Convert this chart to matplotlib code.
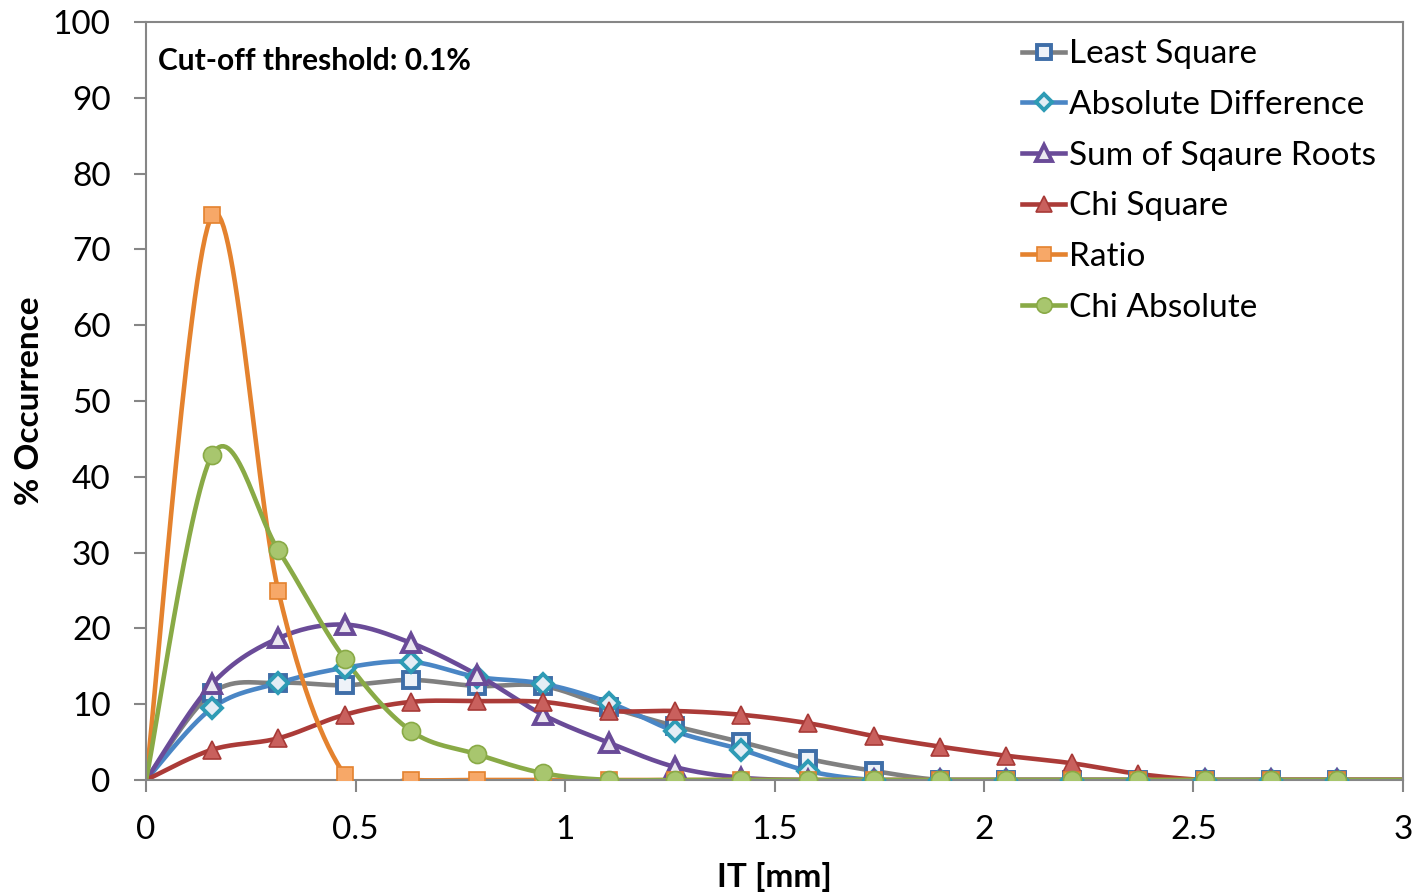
import numpy as np
import matplotlib
matplotlib.use("Agg")
import matplotlib.pyplot as plt

plt.rcParams['font.family'] = ['Lato', 'DejaVu Sans']

# IT bins: 19 equal steps over 0..3 mm (last bin at 3.0 carries no marker)
it_mm = np.arange(20) * 3.0 / 19

least_square = [0, 11.5, 12.8, 12.5, 13.2, 12.4, 12.4, 9.6, 7.1, 5.0, 2.8, 1.2,
                0, 0, 0, 0, 0, 0, 0, 0]
absolute_diff = [0, 9.5, 12.8, 14.8, 15.6, 13.6, 12.7, 10.2, 6.4, 4.0, 1.2, 0,
                 0, 0, 0, 0, 0, 0, 0, 0]
sum_sqrt = [0, 12.7, 18.7, 20.5, 18.1, 13.9, 8.6, 4.9, 1.7, 0.3, 0, 0,
            0, 0, 0, 0, 0, 0, 0, 0]
chi_square = [0, 4.0, 5.5, 8.6, 10.3, 10.4, 10.3, 9.1, 9.1, 8.6, 7.5, 5.8,
              4.4, 3.2, 2.2, 0.8, 0, 0, 0, 0]
ratio = [0, 74.5, 24.9, 0.7, 0, 0, 0, 0, 0, 0, 0, 0,
         0, 0, 0, 0, 0, 0, 0, 0]
chi_absolute = [0, 42.9, 30.3, 16.0, 6.5, 3.4, 0.9, 0, 0, 0, 0, 0,
                0, 0, 0, 0, 0, 0, 0, 0]

labels = ["Least Square", "Absolute Difference", "Sum of Sqaure Roots",
          "Chi Square", "Ratio", "Chi Absolute"]


def smooth(x, y, n=30):
    # Excel-like smoothed line: cardinal spline drawn as cubic Bezier segments
    x = np.asarray(x, float)
    y = np.asarray(y, float)
    px = np.concatenate([[x[0]], x, [x[-1]]])
    py = np.concatenate([[y[0]], y, [y[-1]]])
    t = np.linspace(0, 1, n)[:, None]
    xs, ys = [], []
    for i in range(1, len(px) - 2):
        p0 = np.array([px[i], py[i]])
        p3 = np.array([px[i + 1], py[i + 1]])
        p1 = p0 + (np.array([px[i + 1], py[i + 1]]) - np.array([px[i - 1], py[i - 1]])) / 6
        p2 = p3 - (np.array([px[i + 2], py[i + 2]]) - np.array([px[i], py[i]])) / 6
        pts = ((1 - t) ** 3) * p0 + 3 * ((1 - t) ** 2) * t * p1 + 3 * (1 - t) * t ** 2 * p2 + t ** 3 * p3
        xs.append(pts[:, 0])
        ys.append(pts[:, 1])
    return np.concatenate(xs), np.concatenate(ys)


# hollow = light fill with a thick outline, otherwise a filled marker
styles = [
    dict(line='#808080', marker='s', mec='#3f6ea8', mfc='#eef2f8', ms=12, hollow=True),
    dict(line='#4a86c5', marker='D', mec='#2e9bb5', mfc='#e3edf5', ms=10, hollow=True),
    dict(line='#6a4b98', marker='^', mec='#6a4b98', mfc='#ebe7f0', ms=13, hollow=True),
    dict(line='#ab3b38', marker='^', mec='#a83a37', mfc='#c9605d', ms=13, hollow=False),
    dict(line='#e4822e', marker='s', mec='#e4822e', mfc='#f7a868', ms=12, hollow=False),
    dict(line='#89aa46', marker='o', mec='#89aa46', mfc='#a8c66e', ms=13, hollow=False),
]

fig = plt.figure(figsize=(14.14, 8.96), dpi=100)
ax = fig.add_axes([0.1033, 0.1295, 0.8889, 0.8459])

series = [least_square, absolute_diff, sum_sqrt, chi_square, ratio, chi_absolute]
for vals, lab, st in zip(series, labels, styles):
    sx, sy = smooth(it_mm, vals)
    ax.plot(sx, sy, color=st['line'], lw=3.3, solid_capstyle='round', zorder=2)
    mew = 2.8 if st['hollow'] else 1.2
    ax.plot(it_mm[1:-1], vals[1:-1], ls='none', marker=st['marker'], ms=st['ms'],
            mec=st['mec'], mfc=st['mfc'], mew=mew, zorder=3)
    ax.plot([], [], color=st['line'], lw=3.3, marker=st['marker'], ms=st['ms'] * 0.85,
            mec=st['mec'], mfc=st['mfc'], mew=mew, label=lab)

ax.set_xlim(0, 3)
ax.set_ylim(0, 100)
ax.set_xticks([0, 0.5, 1, 1.5, 2, 2.5, 3])
ax.set_xticklabels(['0', '0.5', '1', '1.5', '2', '2.5', '3'])
ax.set_yticks(np.arange(0, 101, 10))
for s in ax.spines.values():
    s.set_color('#868686')
    s.set_linewidth(1.5)
ax.tick_params(direction='out', length=8.5, width=1.5, color='#868686',
               labelsize=24, pad=17)

ax.set_xlabel('IT [mm]', fontsize=24, fontweight='bold', labelpad=12)
ax.set_ylabel('% Occurrence', fontsize=24, fontweight='bold', labelpad=6)
ax.text(0.0095, 0.948, 'Cut-off threshold: 0.1%', transform=ax.transAxes,
        fontsize=21.5, fontweight='bold', va='center', ha='left')

leg = ax.legend(loc='upper left', bbox_to_anchor=(0.697, 0.977), frameon=False,
                fontsize=24, handlelength=1.3, handletextpad=0.12,
                labelspacing=0.62, borderaxespad=0, borderpad=0)

fig.savefig('out.png', dpi=100)
